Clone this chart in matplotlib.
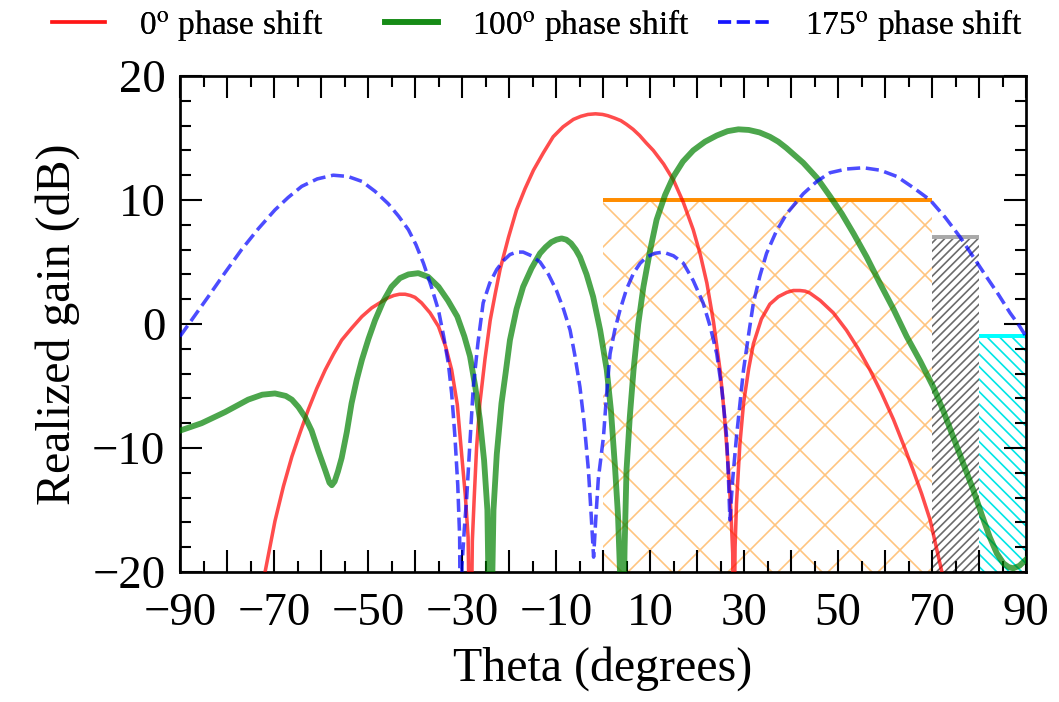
import matplotlib
matplotlib.use("Agg")
import matplotlib.pyplot as plt
from matplotlib.ticker import MultipleLocator, FuncFormatter

plt.rcParams["font.family"] = ["Liberation Serif", "DejaVu Serif"]
plt.rcParams["mathtext.fontset"] = "stix"
plt.rcParams["hatch.linewidth"] = 0.8

# Realized gain patterns (theta in degrees, gain in dB)
theta_0 = [-75, -71.9, -69.8, -68.0, -66.2, -64.4, -62.7, -60.9, -59.1, -57.3, -55.6,
           -53.4, -51.3, -49.2, -47.1, -45.8, -44.5, -43.3, -42.1, -41.0, -40.0, -38.6,
           -36.8, -35.0, -33.5, -32.2, -31.0, -30.1, -29.3, -28.7, -28.2,
           -27.8, -27.4, -26.9, -26.2, -25.1, -24.0, -22.9, -21.9, -20.1, -18.4, -16.6,
           -14.8, -12.7, -10.6, -8.5, -6.3, -4.7, -3.2, -1.6, -0.1, 1.0, 2.5, 3.8, 5.0,
           6.4, 7.8, 9.2, 10.7, 12.9, 15.0, 17.1, 19.2, 20.7, 22.1, 23.5, 24.9, 25.8,
           26.7, 27.2, 27.6, 27.8, 28.1, 28.4, 29.1, 29.9, 31.0, 32.0, 33.7, 35.5, 37.3,
           39.1, 40.5, 41.9, 43.0, 44.0, 46.2, 49.0, 51.8, 54.3, 56.8, 59.3, 61.8, 64.0,
           66.0, 67.8, 69.6, 72.1, 74.0]
gain_0 = [-27, -20, -15.9, -13.1, -10.7, -8.7, -6.9, -5.2, -3.7, -2.4, -1.3,
          -0.3, 0.6, 1.3, 1.8, 2.1, 2.3, 2.4, 2.4, 2.3, 2.15, 1.7,
          0.9, -0.2, -1.8, -3.7, -6.5, -10.4, -13.8, -17.2, -30,
          -17.5, -14.0, -10.0, -6.4, -2.8, 0.3, 2.5, 4.4, 7.0, 9.2, 10.9,
          12.4, 13.8, 15.1, 15.9, 16.5, 16.75, 16.9, 16.95, 16.9, 16.8, 16.6, 16.4, 16.1,
          15.7, 15.2, 14.6, 14.0, 12.9, 11.6, 9.8, 7.6, 5.6, 3.3, 0.2, -3.7, -7.2,
          -11.8, -15.0, -18.5, -30, -18.0, -14.5, -9.8, -6.4, -3.6, -1.6, 0.4, 1.6, 2.2,
          2.55, 2.7, 2.7, 2.65, 2.5, 1.9, 0.9, -0.5, -2.0, -3.7, -5.6, -7.7, -9.8,
          -11.8, -13.7, -15.8, -20, -24]

theta_100 = [-90, -85.4, -80.4, -75.5, -72.5, -69.8, -67.5, -66.2, -64.8, -63.4, -62.0,
             -60.6, -59.1, -58.2, -57.7, -57.1, -56.4, -55.6, -54.5, -53.5, -52.4, -51.3,
             -49.9, -48.5, -46.8, -45.0, -43.2, -41.4, -39.3, -37.2, -35.0, -33.0, -31.0,
             -29.5, -28.3, -27.2, -26.2, -25.3, -24.6, -24.0, -23.3, -22.6, -21.6, -20.7,
             -19.8, -18.4, -17.0, -15.2, -13.4, -12.2, -11.0, -9.9, -8.8, -7.8, -6.8, -5.8,
             -4.9, -3.5, -2.1, -0.6,
             0.8, 1.7, 2.6, 3.2, 3.6, 4.1, 4.6, 5.0, 5.7, 6.5, 7.5, 8.6, 10.0, 11.4, 13.2,
             15.0, 17.0, 19.2, 21.7, 24.2, 26.5, 28.8, 31.0, 33.3, 35.5, 37.3, 39.0, 40.8,
             42.6, 45.5, 48.3, 50.8, 53.3, 56.1, 58.9, 61.8, 64.6, 67.5, 70.3, 72.4, 74.5,
             76.7, 78.8, 80.6, 82.3, 83.8, 85.2, 86.3, 87.3, 88.6, 90.0]
gain_100 = [-8.6, -8.0, -7.1, -6.1, -5.7, -5.6, -5.8, -6.1, -6.7, -7.5, -8.6,
            -10.2, -11.8, -12.8, -13.0, -12.7, -11.9, -10.8, -8.7, -6.4, -4.5, -2.9,
            -1.2, 0.3, 1.8, 3.0, 3.7, 4.0, 4.1, 3.8, 3.0, 1.9, 0.6,
            -1.0, -2.6, -5.0, -7.7, -11.0, -15.0, -30, -15.0, -10.5, -6.4, -3.9,
            -1.3, 1.2, 3.0, 4.5, 5.7, 6.2, 6.6, 6.8, 6.9, 6.8, 6.5, 6.0,
            5.4, 4.0, 2.2, -0.5,
            -3.7, -7.0, -11.8, -15.5, -19.8, -30, -18.0, -11.8, -7.5, -3.7, 0.0, 3.0, 5.9, 8.4,
            10.4, 11.9, 13.1, 14.0, 14.7, 15.2, 15.55, 15.7, 15.65, 15.45, 15.1, 14.7, 14.2,
            13.6, 13.0, 11.8, 10.3, 8.9, 7.3, 5.4, 3.3, 1.2, -1.0, -3.0, -5.1, -7.0, -9.1,
            -11.3, -13.4, -15.4, -17.2, -18.5, -19.3, -19.6, -19.7, -19.5, -19.0]

theta_175 = [-90, -87.0, -84.0, -80.5, -76.9, -73.3, -69.8, -67.0, -64.1, -60.8, -57.4,
             -54.3, -51.3, -48.5, -45.7, -43.5, -41.4, -39.8, -38.2, -36.6, -35.0, -33.9,
             -32.9, -32.2, -31.5, -30.9, -30.5, -30.3, -30.0, -29.5, -29.0, -28.3, -27.6,
             -26.6, -25.5, -24.1, -22.6, -21.2, -19.8, -18.4, -17.0, -15.2, -13.4, -11.6,
             -9.9, -8.4, -7.0, -6.0, -4.9, -4.0, -3.1, -2.5, -2.0, -1.5, -1.0, 0.1, 0.8,
             1.5, 2.5, 3.6, 5.0, 6.5, 7.9, 9.3, 11.0, 12.8, 15.0, 17.1, 19.2, 21.3, 22.8,
             24.2, 25.3, 26.3, 26.7, 27.0, 27.6, 28.4, 29.9, 31.0, 32.0, 33.4, 34.8, 36.9,
             39.1, 42.6, 45.5, 48.3, 51.8, 55.4, 59.0, 62.5, 66.0, 69.6, 72.8, 76.0, 78.8,
             81.6, 84.1, 86.6, 88.5, 90.0]
gain_175 = [-1.0, 0.6, 2.2, 4.1, 6.0, 7.7, 9.2, 10.2, 11.1, 11.7, 12.0,
            11.9, 11.5, 10.7, 9.7, 8.7, 7.6, 6.4, 4.9, 3.1, 1.1, -1.0,
            -3.2, -5.6, -9.1, -13.0, -17.2, -30, -19.5, -16.5, -14.0, -9.5, -5.1,
            -1.5, 1.7, 3.3, 4.4, 5.1, 5.6, 5.8, 5.8, 5.5, 5.0, 4.0,
            2.7, 1.2, -0.5, -2.5, -5.1, -8.0, -11.8, -15.5, -18.8, -15.5, -12.5, -9.1, -5.5,
            -2.4, -0.5, 1.1, 2.8, 4.1, 4.9, 5.4, 5.7, 5.8, 5.5, 4.9, 3.5, 1.7, -0.2,
            -2.4, -5.3, -9.1, -12.5, -15.8, -12.5, -9.1, -3.7, -0.8, 1.7, 3.9, 5.7, 7.5,
            8.9, 10.5, 11.5, 12.2, 12.5, 12.6, 12.4, 11.9, 11.0, 10.0, 8.6, 7.0, 5.4,
            3.8, 2.4, 0.9, -0.1, -1.0]

series_labels = ["0$^{\\rm o}$ phase shift", "100$^{\\rm o}$ phase shift",
                 "175$^{\\rm o}$ phase shift"]

# Angular sectors with their gain levels
sector_start = [0, 70, 80]
sector_end = [70, 80, 90]
sector_level = [10, 7, -1]

x_tick_labels = ["\u221290", "\u221270", "\u221250", "\u221230", "\u221210",
                 "10", "30", "50", "70", "90"]

W, H, DPI = 1059, 702, 150
fig = plt.figure(figsize=(W / DPI, H / DPI), dpi=DPI)
ax = fig.add_axes([180 / W, 1 - 572 / H, 846 / W, 496 / H])

ymin, ymax = -20, 20

hatch_colors = [(1.0, 0.55, 0.0, 0.5), (0.42, 0.42, 0.42, 1.0), (0.0, 0.9, 0.9, 1.0)]
hatches = ["x", "//////", "\\\\\\\\"]
top_colors = ["darkorange", "darkgray", "cyan"]
for s, e, lvl, hc, hp, tc in zip(sector_start, sector_end, sector_level,
                                 hatch_colors, hatches, top_colors):
    ax.bar(s, lvl - ymin, width=e - s, bottom=ymin, align="edge", fill=False,
           hatch=hp, edgecolor=hc, linewidth=0, zorder=1)
    ax.hlines(lvl, s, e, colors=tc, linewidth=1.9, zorder=2)

l0, = ax.plot(theta_0, gain_0, color="red", alpha=0.7, lw=1.7, zorder=3)
l1, = ax.plot(theta_100, gain_100, color="green", alpha=0.7, lw=2.8, zorder=3)
l2, = ax.plot(theta_175, gain_175, color="blue", alpha=0.7, lw=1.7, ls="--", zorder=3)

ax.set_xlim(-90, 90)
ax.set_ylim(ymin, ymax)

ax.xaxis.set_major_locator(MultipleLocator(10))
ax.xaxis.set_minor_locator(MultipleLocator(5))
labelled = {-90 + 20 * i: t for i, t in enumerate(x_tick_labels)}
ax.xaxis.set_major_formatter(FuncFormatter(lambda v, p: labelled.get(int(round(v)), "")))
ax.yaxis.set_major_locator(MultipleLocator(10))
ax.yaxis.set_minor_locator(MultipleLocator(2))
ax.yaxis.set_major_formatter(FuncFormatter(lambda v, p: f"{int(v)}".replace("-", "\u2212")))

ax.tick_params(which="both", direction="in", top=True, right=True, width=1.0)
ax.tick_params(which="major", length=10.5, labelsize=22.5)
ax.tick_params(axis="x", which="major", pad=10)
ax.tick_params(axis="y", which="major", pad=7)
ax.tick_params(which="minor", length=5.3)
for sp in ax.spines.values():
    sp.set_linewidth(1.3)

ax.set_xlabel("Theta (degrees)", fontsize=23, labelpad=5)
ax.set_ylabel("Realized gain (dB)", fontsize=23, labelpad=6)

# One legend entry per column, each anchored at its own position along the top
handles = [l0, l1, l2]
entry_x = [52, 385, 718]
for h, lab, x0 in zip(handles, series_labels, entry_x):
    leg = fig.legend([h], [lab], loc="center left", bbox_to_anchor=(x0 / W, 1 - 25 / H),
                     frameon=False, fontsize=16, handlelength=1.6, handletextpad=1.0,
                     borderpad=0, borderaxespad=0)
    fig.add_artist(leg)

fig.savefig("out.png", dpi=DPI)
